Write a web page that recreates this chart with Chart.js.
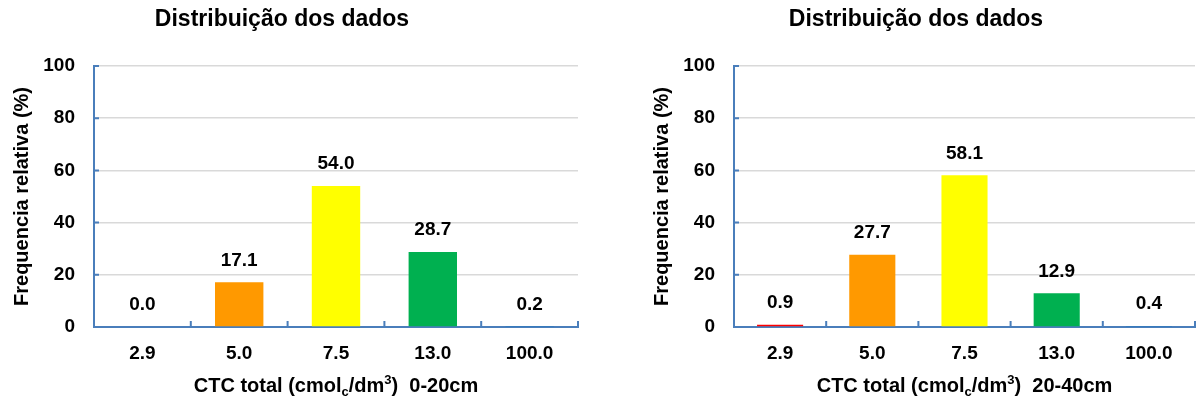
<!DOCTYPE html>
<html>
<head>
<meta charset="utf-8">
<script src="https://cdn.jsdelivr.net/npm/chart.js@4.4.1/dist/chart.umd.min.js"></script>
<style>
    body { margin: 0; background: #fff; width: 1199px; height: 400px; overflow: hidden; position: relative; }
    .box { position: absolute; top: 0; height: 400px; }
    #box1 { left: 0; width: 600px; }
    #box2 { left: 640px; width: 559px; }
</style>
</head>
<body>
<div class="box" id="box1"><canvas id="chart1"></canvas></div>
<div class="box" id="box2"><canvas id="chart2"></canvas></div>
<script>
// 数据
const categories = ['2.9', '5.0', '7.5', '13.0', '100.0'];
const freq0a20 = [0.0, 17.1, 54.0, 28.7, 0.2];
const freq20a40 = [0.9, 27.7, 58.1, 12.9, 0.4];
const barColors = ['#ff0000', '#ff9900', '#ffff00', '#00b050', '#0070c0'];
const yTickValues = [0, 20, 40, 60, 80, 100];

const FONT = "'Liberation Sans', Arial, sans-serif";
const axisBlue = '#4a7ebb';

Chart.defaults.font.family = FONT;
Chart.defaults.color = '#000';

// 标题、数值标签、内侧刻度、x轴标题（带上下标）
const decorPlugin = {
    id: 'decor',
    afterDraw(chart, args, opts) {
        const ctx = chart.ctx;
        const { left, right, bottom } = chart.chartArea;
        const xs = chart.scales.x;
        const ys = chart.scales.y;
        ctx.save();

        // 内侧刻度
        ctx.strokeStyle = axisBlue;
        ctx.lineWidth = 2;
        ctx.beginPath();
        yTickValues.forEach(v => {
            const py = ys.getPixelForValue(v);
            ctx.moveTo(left, py);
            ctx.lineTo(left + 5, py);
        });
        for (let i = 0; i < categories.length; i++) {
            const px = i < categories.length - 1
                ? (xs.getPixelForValue(i) + xs.getPixelForValue(i + 1)) / 2
                : right;
            ctx.moveTo(px, bottom);
            ctx.lineTo(px, bottom - 6);
        }
        ctx.stroke();

        ctx.fillStyle = '#000';
        ctx.textAlign = 'center';
        ctx.textBaseline = 'middle';

        // 数值标签
        ctx.font = `bold 19px ${FONT}`;
        const data = chart.data.datasets[0].data;
        chart.getDatasetMeta(0).data.forEach((bar, i) => {
            ctx.fillText(data[i].toFixed(1), bar.x, bar.y - 22);
        });

        // 图表标题
        ctx.font = `bold 23px ${FONT}`;
        ctx.fillText(opts.title, opts.titleX, 20);

        // x轴标题
        const parts = [
            { t: 'CTC total (cmol', size: 20, dy: 0 },
            { t: 'c', size: 13, dy: 4 },
            { t: '/dm', size: 20, dy: 0 },
            { t: '3', size: 13, dy: -8 },
            { t: ')  ' + opts.depth, size: 20, dy: 0 }
        ];
        let total = 0;
        parts.forEach(p => {
            ctx.font = `bold ${p.size}px ${FONT}`;
            p.w = ctx.measureText(p.t).width;
            total += p.w;
        });
        let cx = (left + right) / 2 - total / 2;
        ctx.textAlign = 'left';
        ctx.textBaseline = 'alphabetic';
        parts.forEach(p => {
            ctx.font = `bold ${p.size}px ${FONT}`;
            ctx.fillText(p.t, cx, 392 + p.dy);
            cx += p.w;
        });
        ctx.restore();
    }
};

function makeChart(canvasId, values, opts) {
    const ctx = document.getElementById(canvasId);
    return new Chart(ctx, {
        type: 'bar',
        data: {
            labels: categories,
            datasets: [{
                data: values,
                backgroundColor: barColors,
                borderWidth: 0,
                barPercentage: 0.5,
                categoryPercentage: 1.0
            }]
        },
        options: {
            responsive: true,
            maintainAspectRatio: false,
            animation: false,
            layout: {
                padding: { left: 0, right: opts.padRight, top: 66, bottom: 33 }
            },
            plugins: {
                legend: { display: false },
                tooltip: { enabled: false },
                title: { display: false },
                decor: { title: 'Distribuição dos dados', titleX: opts.titleX, depth: opts.depth }
            },
            scales: {
                x: {
                    grid: { display: false, drawTicks: false },
                    border: { color: axisBlue, width: 2 },
                    ticks: {
                        font: { size: 19, weight: 'bold' },
                        color: '#000',
                        padding: 15,
                        maxRotation: 0
                    },
                    afterFit: s => { s.height = 40; }
                },
                y: {
                    min: 0,
                    max: 100,
                    grid: { color: '#d9d9d9', lineWidth: 1.5, drawTicks: false },
                    border: { color: axisBlue, width: 2 },
                    ticks: {
                        stepSize: 20,
                        font: { size: 19, weight: 'bold' },
                        color: '#000',
                        padding: 19
                    },
                    title: {
                        display: true,
                        text: 'Frequencia relativa (%)',
                        font: { size: 20, weight: 'bold' },
                        color: '#000',
                        padding: { top: 10, bottom: 0 }
                    },
                    afterFit: s => { s.width = 94; }
                }
            }
        },
        plugins: [decorPlugin]
    });
}

makeChart('chart1', freq0a20, { padRight: 22, titleX: 282, depth: '0-20cm' });
makeChart('chart2', freq20a40, { padRight: 4, titleX: 276, depth: '20-40cm' });
</script>
</body>
</html>
